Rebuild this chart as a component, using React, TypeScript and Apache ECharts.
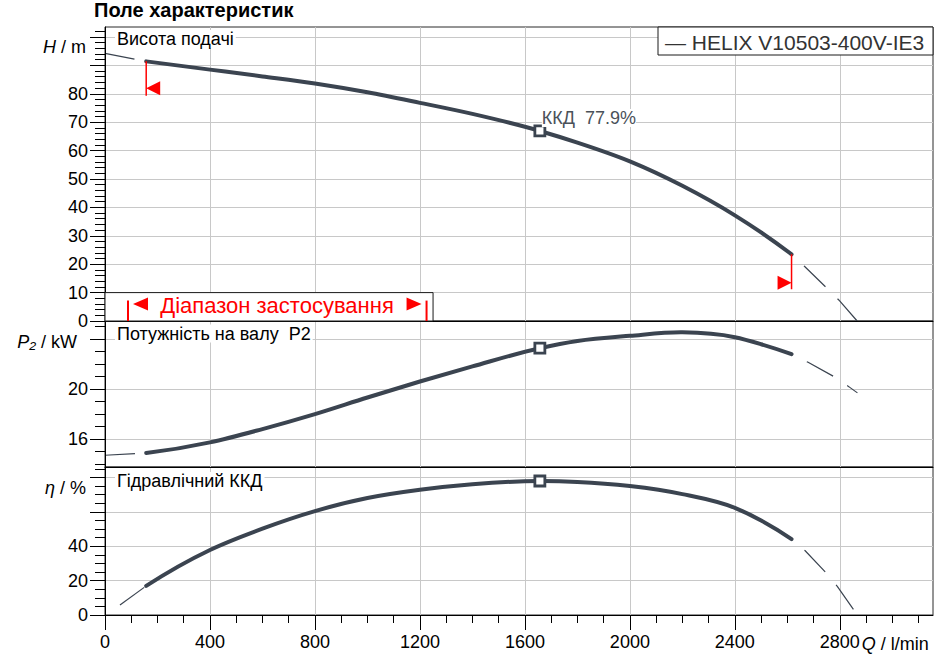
import React, { useEffect, useRef } from "react";
import * as echarts from "echarts";

const FONT = "'Liberation Sans', Arial, Helvetica, sans-serif";
const CURVE = "#3b4450";
const RED = "#ff0000";
const GRIDLINE = "#c8c8c8";

// ---- X axis: flow Q (l/min)
const Q_MIN = 0;
const Q_MAX = 3155;
const qMajorTicks = [0, 400, 800, 1200, 1600, 2000, 2400, 2800];
const qMinorTicks = [
  0, 100, 200, 300, 400, 500, 600, 700, 800, 900, 1000, 1100, 1200, 1300, 1400, 1500,
  1600, 1700, 1800, 1900, 2000, 2100, 2200, 2300, 2400, 2500, 2600, 2700, 2800, 2900,
  3000, 3100,
];

// ---- Head H (m)
const H_MIN = 0;
const H_MAX = 103.5;
const hMajorTicks = [0, 10, 20, 30, 40, 50, 60, 70, 80, 90, 100];
const hLabels = [0, 10, 20, 30, 40, 50, 60, 70, 80];
const hMinorTicks = [
  0, 2, 4, 6, 8, 10, 12, 14, 16, 18, 20, 22, 24, 26, 28, 30, 32, 34, 36, 38, 40, 42, 44, 46,
  48, 50, 52, 54, 56, 58, 60, 62, 64, 66, 68, 70, 72, 74, 76, 78, 80, 82, 84, 86, 88, 90, 92,
  94, 96, 98, 100, 102,
];
const qCurve = [157, 400, 600, 800, 1000, 1200, 1400, 1657, 1800, 2000, 2200, 2400, 2500, 2616];
const headH = [91.4, 88.5, 86.1, 83.6, 80.5, 76.8, 72.9, 66.9, 62.8, 56.2, 47.6, 37.2, 31.2, 23.5];
const qHeadExtL = [0, 157];
const headExtL = [94.2, 91.4];
const qHeadExtR = [2616, 2667, 2749, 2796, 2866];
const headExtR = [23.5, 19.1, 11.7, 7.4, 0];

// ---- Shaft power P2 (kW)
const P_MIN = 13.76;
const P_MAX = 25.46;
const pMajorTicks = [16, 20, 24];
const pLabels = [16, 20];
const pMinorTicks = [14, 15, 16, 17, 18, 19, 20, 21, 22, 23, 24, 25];
const powerP = [14.88, 15.73, 16.8, 18.0, 19.33, 20.61, 21.82, 23.28, 23.85, 24.27, 24.55, 24.16, 23.6, 22.8];
const qPowerExtL = [0, 157];
const powerExtL = [14.7, 14.88];
const qPowerExtR = [2616, 2679, 2778, 2834, 2867];
const powerExtR = [22.8, 22.15, 21.0, 20.2, 19.7];

// ---- Hydraulic efficiency eta (%)
const E_MIN = 0;
const E_MAX = 86.05;
const eMajorTicks = [0, 20, 40, 60, 80];
const eLabels = [0, 20, 40];
const eMinorTicks = [0, 5, 10, 15, 20, 25, 30, 35, 40, 45, 50, 55, 60, 65, 70, 75, 80, 85];
const etaVals = [16.9, 37.8, 50.2, 60.4, 68.0, 72.8, 76.0, 77.9, 77.4, 75.0, 70.3, 62.3, 55.0, 44.1];
const qEtaExtL = [57, 157];
const etaExtL = [5.8, 16.9];
const qEtaExtR = [2616, 2667, 2749, 2791, 2858];
const etaExtR = [44.1, 37.5, 24.3, 16.5, 1.9];

// ---- Duty point
const dutyQ = 1657;
const dutyH = 66.9;
const dutyP = 23.28;
const dutyEta = 77.9;

// ---- Operating range markers
const rangeLeftQ = 157;
const rangeLeftLine = [91.4, 79.3];
const rangeLeftTri = 81.9;
const rangeRightQ = 2616;
const rangeRightLine = [23.5, 11.2];
const rangeRightTri = 13.5;
const rangeBoxQ = 1250;
const rangeBoxH = 10;

const pumpName = "HELIX V10503-400V-IE3";

const pairs = (q: number[], v: number[]) => q.map((x, i) => [x, v[i]]);

// Cubic Hermite spline through pixel points (x strictly increasing)
function smoothPath(p: number[][]): string {
  const n = p.length;
  const h: number[] = [];
  const d: number[] = [];
  for (let i = 0; i < n - 1; i++) {
    h.push(p[i + 1][0] - p[i][0]);
    d.push((p[i + 1][1] - p[i][1]) / h[i]);
  }
  const m: number[] = new Array(n).fill(0);
  for (let i = 1; i < n - 1; i++) m[i] = (d[i - 1] * h[i] + d[i] * h[i - 1]) / (h[i - 1] + h[i]);
  m[0] = 2 * d[0] - m[1];
  m[n - 1] = 2 * d[n - 2] - m[n - 2];
  let s = `M${p[0][0]},${p[0][1]}`;
  for (let i = 0; i < n - 1; i++) {
    const c1x = p[i][0] + h[i] / 3;
    const c1y = p[i][1] + (m[i] * h[i]) / 3;
    const c2x = p[i + 1][0] - h[i] / 3;
    const c2y = p[i + 1][1] - (m[i + 1] * h[i]) / 3;
    s += ` C${c1x},${c1y} ${c2x},${c2y} ${p[i + 1][0]},${p[i + 1][1]}`;
  }
  return s;
}

function buildOption(): any {
  const rects = [
    { left: 105, top: 27, width: 828, height: 294 },
    { left: 105, top: 321, width: 828, height: 146 },
    { left: 105, top: 467, width: 828, height: 148 },
  ];
  const grid = [
    ...rects.map((r) => ({
      ...r,
      show: true,
      borderColor: "#2a2a2a",
      borderWidth: 1,
      backgroundColor: "transparent",
      containLabel: false,
      outerBoundsMode: "none",
    })),
    ...rects.map((r) => ({ ...r, show: false, containLabel: false, outerBoundsMode: "none" })),
  ];

  const xMajor = (gi: number, ticks: boolean) => ({
    type: "value",
    gridIndex: gi,
    min: Q_MIN,
    max: Q_MAX,
    interval: 400,
    axisLine: { show: false },
    axisTick: { show: ticks, customValues: qMajorTicks, length: 15, lineStyle: { color: "#000", width: 1 } },
    axisLabel: {
      show: ticks,
      customValues: qMajorTicks,
      formatter: (v: number) => String(v),
      margin: 18,
      fontSize: 18,
      color: "#000",
      fontFamily: FONT,
    },
    splitLine: { show: true, lineStyle: { color: GRIDLINE, width: 1 } },
  });
  const xOverlay = (gi: number, ticks: boolean) => ({
    type: "value",
    gridIndex: gi,
    min: Q_MIN,
    max: Q_MAX,
    interval: 100,
    z: 10,
    axisLine: { show: true, lineStyle: { color: "#000", width: 1 } },
    axisTick: { show: ticks, customValues: qMinorTicks, length: 8, lineStyle: { color: "#000", width: 1 } },
    axisLabel: { show: false },
    splitLine: { show: false },
  });
  const yMajor = (gi: number, min: number, max: number, ticks: number[], labels: number[], interval?: number) => ({
    type: "value",
    gridIndex: gi,
    min,
    max,
    ...(interval ? { interval } : {}),
    axisLine: { show: false },
    axisTick: { show: true, customValues: ticks, length: 15, lineStyle: { color: "#000", width: 1 } },
    axisLabel: {
      show: true,
      customValues: labels,
      formatter: (v: number) => String(v),
      margin: 17,
      fontSize: 18,
      color: "#000",
      fontFamily: FONT,
    },
    splitLine: { show: true, lineStyle: { color: GRIDLINE, width: 1 } },
  });
  const yOverlay = (gi: number, min: number, max: number, ticks: number[]) => ({
    type: "value",
    gridIndex: gi,
    min,
    max,
    z: 10,
    axisLine: { show: true, lineStyle: { color: "#000", width: 1 } },
    axisTick: { show: true, customValues: ticks, length: 10, lineStyle: { color: "#000", width: 1 } },
    axisLabel: { show: false },
    splitLine: { show: false },
  });

  const mainCurve = (idx: number, q: number[], v: number[]) => ({
    type: "custom",
    xAxisIndex: idx,
    yAxisIndex: idx,
    data: pairs(q, v),
    encode: { x: 0, y: 1 },
    silent: true,
    z: 3,
    renderItem: (params: any, api: any) => {
      if (params.dataIndex !== 0) return null;
      const pts = q.map((x, i) => api.coord([x, v[i]]));
      return {
        type: "path",
        shape: { pathData: smoothPath(pts) },
        style: { fill: "none", stroke: CURVE, lineWidth: 4, lineCap: "round", lineJoin: "round" },
      };
    },
  });
  const extLine = (idx: number, q: number[], v: number[], offset: number) => ({
    type: "line",
    xAxisIndex: idx,
    yAxisIndex: idx,
    data: pairs(q, v),
    showSymbol: false,
    symbol: "none",
    smooth: false,
    silent: true,
    z: 3,
    lineStyle: { color: CURVE, width: 1.2, type: [30, 17], dashOffset: offset },
  });
  const dutyMark = (idx: number, v: number) => ({
    type: "scatter",
    xAxisIndex: idx,
    yAxisIndex: idx,
    data: [[dutyQ, v]],
    symbol: "rect",
    symbolSize: 10,
    silent: true,
    z: 6,
    itemStyle: { color: "#fff", borderColor: CURVE, borderWidth: 2.8, opacity: 1 },
  });
  const redLine = (q: number, hs: number[]) => ({
    type: "line",
    xAxisIndex: 0,
    yAxisIndex: 0,
    data: [
      [q, hs[0]],
      [q, hs[1]],
    ],
    showSymbol: false,
    symbol: "none",
    silent: true,
    z: 5,
    lineStyle: { color: RED, width: 1.5 },
  });
  const redTri = (q: number, h: number, rot: number, off: number) => ({
    type: "scatter",
    xAxisIndex: 0,
    yAxisIndex: 0,
    data: [[q, h]],
    symbol: "triangle",
    symbolSize: 14,
    symbolRotate: rot,
    symbolOffset: [off, 0],
    silent: true,
    z: 5,
    itemStyle: { color: RED, opacity: 1 },
  });

  return {
    animation: false,
    backgroundColor: "#fff",
    textStyle: { fontFamily: FONT },
    grid,
    xAxis: [xMajor(0, false), xMajor(1, false), xMajor(2, true), xOverlay(3, false), xOverlay(4, false), xOverlay(5, true)],
    yAxis: [
      yMajor(0, H_MIN, H_MAX, hMajorTicks, hLabels, 10),
      yMajor(1, P_MIN, P_MAX, pMajorTicks, pLabels),
      yMajor(2, E_MIN, E_MAX, eMajorTicks, eLabels, 20),
      yOverlay(3, H_MIN, H_MAX, hMinorTicks),
      yOverlay(4, P_MIN, P_MAX, pMinorTicks),
      yOverlay(5, E_MIN, E_MAX, eMinorTicks),
    ],
    series: [
      extLine(0, qHeadExtL, headExtL, 0),
      extLine(0, qHeadExtR, headExtR, 30),
      mainCurve(0, qCurve, headH),
      extLine(1, qPowerExtL, powerExtL, 0),
      extLine(1, qPowerExtR, powerExtR, 30),
      mainCurve(1, qCurve, powerP),
      extLine(2, qEtaExtL, etaExtL, 0),
      extLine(2, qEtaExtR, etaExtR, 30),
      mainCurve(2, qCurve, etaVals),
      redLine(rangeLeftQ, rangeLeftLine),
      redLine(rangeRightQ, rangeRightLine),
      redTri(rangeLeftQ, rangeLeftTri, 90, 7),
      redTri(rangeRightQ, rangeRightTri, -90, -7),
      dutyMark(0, dutyH),
      dutyMark(1, dutyP),
      dutyMark(2, dutyEta),
    ],
  };
}

function buildGraphics(px: (g: number, q: number, v: number) => number[]): any[] {
  const txt = (x: number, y: number, text: string, style: any = {}) => ({
    type: "text",
    x,
    y,
    z: 30,
    style: {
      text,
      fontFamily: FONT,
      fontSize: 18,
      fill: "#000",
      align: "left",
      verticalAlign: "middle",
      ...style,
    },
  });
  const italic = { i: { fontStyle: "italic", fontSize: 18, fontFamily: FONT, fill: "#000" } };

  const [gx0, gy0] = px(0, Q_MIN, H_MAX);
  const gx1 = px(0, Q_MAX, H_MAX)[0];
  const [bx0, by0] = px(0, Q_MIN, rangeBoxH);
  const [bx1, by1] = px(0, rangeBoxQ, H_MIN);
  const [dx, dy] = px(0, dutyQ, dutyH);
  const [x2800, yAxisBottom] = px(2, 2800, E_MIN);
  const pTop = px(1, Q_MIN, P_MAX)[1];
  const eTop = px(2, Q_MIN, E_MAX)[1];

  const legendW = 275;
  const legendH = 28;

  return [
    txt(gx0 - 11, gy0 - 17, "Поле характеристик", { fontSize: 20, fontWeight: "bold" }),
    // axis names
    txt(gx0 - 19, gy0 + 20, "{i|H} / m", { align: "right", rich: italic }),
    txt(gx0 - 28, pTop + 21, "{i|P₂} / kW", { align: "right", rich: italic }),
    txt(gx0 - 19, eTop + 21, "{i|η} / %", { align: "right", rich: italic }),
    txt(x2800 + 22, yAxisBottom + 28.5, "{i|Q} / l/min", { rich: italic }),
    // panel titles
    txt(gx0 + 10, gy0 + 12, "Висота подачі", { backgroundColor: "#fff", padding: [0, 2] }),
    txt(gx0 + 10, pTop + 12.5, "Потужність на валу  P2", { backgroundColor: "#fff", padding: [0, 2] }),
    txt(gx0 + 10, eTop + 14, "Гідравлічний ККД", { backgroundColor: "#fff", padding: [0, 2] }),
    // legend box
    {
      type: "rect",
      z: 30,
      shape: { x: gx1 - legendW, y: gy0, width: legendW, height: legendH },
      style: { fill: "#fff", stroke: "#1a1a1a", lineWidth: 1 },
    },
    txt(gx1 - legendW + 7, gy0 + legendH / 2 + 1, "— " + pumpName, { fontSize: 21, fill: "#333" }),
    // duty label
    txt(dx + 2, dy - 13, "ККД  " + dutyEta.toFixed(1) + "%", { fill: "#4a5159", backgroundColor: "#fff" }),
    // operating range box
    {
      type: "rect",
      z: 25,
      shape: { x: bx0, y: by0, width: bx1 - bx0, height: by1 - by0 },
      style: { fill: "#fff", stroke: "#1a1a1a", lineWidth: 1 },
    },
    {
      type: "line",
      z: 31,
      shape: { x1: bx0 + 23, y1: by0 + 8, x2: bx0 + 23, y2: by1 },
      style: { stroke: RED, lineWidth: 2 },
    },
    {
      type: "polygon",
      z: 31,
      shape: { points: [[bx0 + 28, by0 + 11.5], [bx0 + 43, by0 + 5], [bx0 + 43, by0 + 18]] },
      style: { fill: RED },
    },
    txt((bx0 + bx1) / 2 + 8, by0 + 13, "Діапазон застосування", { align: "center", fontSize: 22, fill: RED }),
    {
      type: "polygon",
      z: 31,
      shape: { points: [[bx1 - 11.5, by0 + 11.5], [bx1 - 26.5, by0 + 5], [bx1 - 26.5, by0 + 18]] },
      style: { fill: RED },
    },
    {
      type: "line",
      z: 31,
      shape: { x1: bx1 - 6.5, y1: by0 + 8, x2: bx1 - 6.5, y2: by1 },
      style: { stroke: RED, lineWidth: 2 },
    },
  ];
}

export default function App() {
  const ref = useRef<HTMLDivElement>(null);
  useEffect(() => {
    const el = ref.current;
    if (!el) return;
    const chart = echarts.init(el, undefined, { renderer: "svg" });
    chart.setOption(buildOption());
    const px = (g: number, q: number, v: number) =>
      chart.convertToPixel({ gridIndex: g } as any, [q, v]) as unknown as number[];
    chart.setOption({ graphic: buildGraphics(px) });
    return () => chart.dispose();
  }, []);
  return (
    <div
      ref={ref}
      style={{ position: "fixed", left: 0, top: 0, width: 949, height: 658, background: "#fff" }}
    />
  );
}
